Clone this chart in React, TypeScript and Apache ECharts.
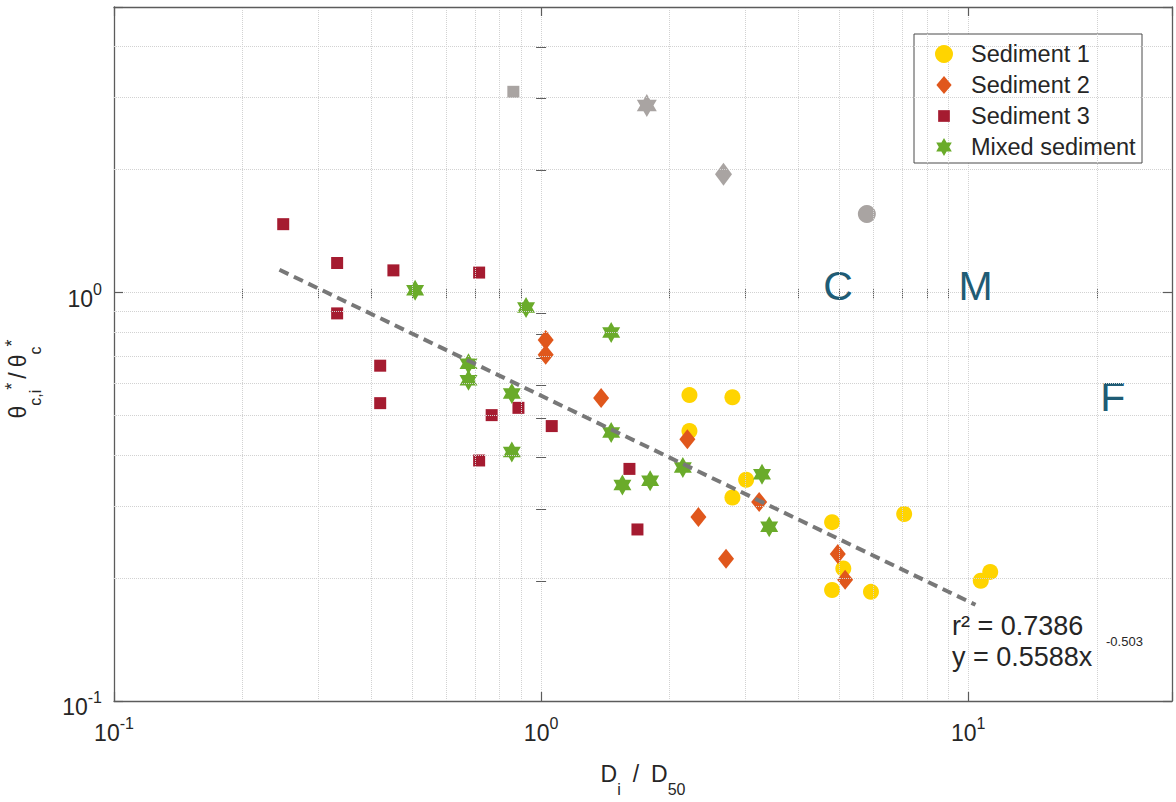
import React, { useEffect, useRef } from "react";
import * as echarts from "echarts";

// ---------- data ----------
const sediment1: number[][] = [
  [2.225, 0.561], [2.805, 0.554], [2.225, 0.458], [3.02, 0.348], [2.805, 0.315],
  [4.8, 0.274], [7.08, 0.287], [5.1, 0.211], [4.8, 0.187], [5.92, 0.185],
  [10.7, 0.197], [11.26, 0.207],
];
const sediment2: number[][] = [
  [1.025, 0.765], [1.025, 0.704], [1.382, 0.552], [2.2, 0.437], [2.335, 0.282],
  [2.71, 0.223], [3.24, 0.307], [4.95, 0.229], [5.15, 0.198],
];
const sediment3: number[][] = [
  [0.249, 1.47], [0.333, 1.181], [0.451, 1.133], [0.716, 1.119], [0.333, 0.889],
  [0.42, 0.662], [0.42, 0.536], [0.766, 0.501], [0.885, 0.522], [1.059, 0.471],
  [0.716, 0.388], [1.61, 0.37], [1.681, 0.263],
];
const mixedSediment: number[][] = [
  [0.507, 1.013], [0.922, 0.919], [1.459, 0.798], [0.676, 0.669], [0.676, 0.61],
  [0.854, 0.566], [1.459, 0.454], [0.854, 0.407], [2.147, 0.373], [1.55, 0.338],
  [1.8, 0.346], [3.29, 0.359], [3.42, 0.267],
];
const excludedSediment1: number[][] = [[5.79, 1.557]];
const excludedSediment2: number[][] = [[2.673, 1.948]];
const excludedSediment3: number[][] = [[0.861, 3.1]];
const excludedMixed: number[][] = [[1.768, 2.87]];
const fitLine: number[][] = [[0.244, 1.137], [10.4, 0.172]];
const fitR2 = "0.7386";
const fitCoef = "0.5588";
const fitExp = "-0.503";

const xRange = [0.1, 30];
const yRange = [0.1, 5];
const xMinorTicks = [0.2, 0.3, 0.4, 0.5, 0.6, 0.7, 0.8, 0.9, 2, 3, 4, 5, 6, 7, 8, 9, 20];
const yMinorTicks = [0.2, 0.3, 0.4, 0.5, 0.6, 0.7, 0.8, 0.9, 2, 3, 4];

const regionLabels = ["C", "M", "F"];
const regionX = [4.96, 10.41, 21.8];
const regionY = [1.04, 1.04, 0.555];

const seriesNames = ["Sediment 1", "Sediment 2", "Sediment 3", "Mixed sediment"];

// ---------- styles ----------
const FONT = '"Liberation Sans", Arial, Helvetica, sans-serif';
const AXIS_COLOR = "#5c5c5c";
const TEXT_COLOR = "#262626";
const GRID_COLOR = "#d2d2d2";
const COLORS = ["#FFD400", "#E0571C", "#A51B30", "#6AAB2A"];
const GRAY = "#A9A4A2";

const starPath =
  "path://M0,-10L2.887,-5L8.66,-5L5.774,0L8.66,5L2.887,5L0,10L-2.887,5L-8.66,5L-5.774,0L-8.66,-5L-2.887,-5Z";
const legendStar =
  "path://M-10,-10M10,10M0,-10L2.887,-5L8.66,-5L5.774,0L8.66,5L2.887,5L0,10L-2.887,5L-8.66,5L-5.774,0L-8.66,-5L-2.887,-5Z";
const legendDiamond = "path://M-9,-10M9,10M0,-10L8.5,0L0,10L-8.5,0Z";
const legendSquare = "path://M-10,-10M10,10M-6.5,-6.5L6.5,-6.5L6.5,6.5L-6.5,6.5Z";

const tickRich = {
  b: { fontSize: 23, lineHeight: 23, padding: [6, 0, 0, 0], verticalAlign: "top", color: TEXT_COLOR, fontFamily: FONT },
  s: { fontSize: 16, lineHeight: 16, verticalAlign: "top", color: TEXT_COLOR, fontFamily: FONT },
};

const decadeLabel = (v: number) => {
  const e = Math.log10(v);
  if (Math.abs(e - Math.round(e)) > 1e-6) return "";
  return `{b|10}{s|${Math.round(e)}}`;
};

const log10 = (v: number) => Math.log10(v);

export default function App() {
  const ref = useRef<HTMLDivElement>(null);

  useEffect(() => {
    document.body.style.margin = "0";
    const chart = echarts.init(ref.current!, undefined, { renderer: "svg" });

    const gridBox = { left: 114, right: 4, top: 7, bottom: 97 };

    const majorLog = (position: string, gridIndex: number, range: number[], labels: boolean, extra: any = {}) => ({
      type: "log",
      logBase: 10,
      gridIndex,
      position,
      min: range[0],
      max: range[1],
      axisLine: { show: true, onZero: false, lineStyle: { color: AXIS_COLOR, width: 1.3 } },
      axisTick: { show: true, inside: true, length: 9, lineStyle: { color: AXIS_COLOR, width: 1.2 } },
      axisLabel: labels
        ? { show: true, formatter: decadeLabel, rich: tickRich, ...extra.axisLabel }
        : { show: false },
      splitLine: labels ? { show: true, lineStyle: { color: GRID_COLOR, type: "dotted", width: 1 } } : { show: false },
      ...(extra.name ? extra.name : {}),
    });

    const minorAxis = (position: string, range: number[], ticks: number[]) => ({
      type: "value",
      gridIndex: 1,
      position,
      min: log10(range[0]),
      max: log10(range[1]),
      axisLine: { show: false },
      axisTick: { show: true, inside: true, length: 5, customValues: ticks.map(log10), lineStyle: { color: AXIS_COLOR, width: 1 } },
      axisLabel: { show: false },
      splitLine: { show: false },
    });

    const option: any = {
      animation: false,
      backgroundColor: "#ffffff",
      textStyle: { fontFamily: FONT },
      grid: [{ ...gridBox }, { ...gridBox }],
      xAxis: [
        majorLog("bottom", 0, xRange, true, {
          axisLabel: { margin: 14 },
          name: {
            name: "{m|D}{s|i}{sl|/}{m|D}{s|50}",
            nameLocation: "middle",
            nameGap: 61,
            nameTextStyle: {
              rich: {
                m: { fontSize: 23, lineHeight: 23, verticalAlign: "top", color: TEXT_COLOR, fontFamily: FONT },
                sl: { fontSize: 23, lineHeight: 23, padding: [0, 12, 0, 12], verticalAlign: "top", color: TEXT_COLOR, fontFamily: FONT },
                s: { fontSize: 16, lineHeight: 16, padding: [19, 0, 0, 0], verticalAlign: "top", color: TEXT_COLOR, fontFamily: FONT },
              },
            },
          },
        }),
        majorLog("top", 0, xRange, false),
        minorAxis("bottom", xRange, xMinorTicks),
        minorAxis("top", xRange, xMinorTicks),
      ],
      yAxis: [
        majorLog("left", 0, yRange, true, { axisLabel: { margin: 12 } }),
        majorLog("right", 0, yRange, false),
        minorAxis("left", yRange, yMinorTicks),
        minorAxis("right", yRange, yMinorTicks),
      ],
      legend: {
        orient: "vertical",
        left: 935,
        top: 42,
        padding: 0,
        itemGap: 7,
        itemWidth: 44,
        itemHeight: 18,
        z: 6,
        textStyle: { fontSize: 23.5, color: TEXT_COLOR, fontFamily: FONT, lineHeight: 22 },
        data: [
          { name: seriesNames[0], icon: "circle" },
          { name: seriesNames[1], icon: legendDiamond },
          { name: seriesNames[2], icon: legendSquare },
          { name: seriesNames[3], icon: legendStar },
        ],
      },
      graphic: [
        {
          type: "rect",
          z: 4,
          shape: { x: 914, y: 34, width: 228, height: 129 },
          style: { fill: "#ffffff", stroke: "#4a4a4a", lineWidth: 1 },
        },
        {
          type: "text",
          z: 6,
          x: 12,
          y: 379,
          rotation: Math.PI / 2,
          style: {
            text: "{m|θ}{s|c,i}{p|*}{sl|/}{m|θ}{s|c}{p|*}",
            align: "center",
            verticalAlign: "middle",
            textAlign: "center",
            textVerticalAlign: "middle",
            rich: {
              m: { fontSize: 23, lineHeight: 23, padding: [6, 0, 0, 0], verticalAlign: "top", fill: TEXT_COLOR, color: TEXT_COLOR, fontFamily: FONT },
              sl: { fontSize: 23, lineHeight: 23, padding: [6, 5, 0, 4], verticalAlign: "top", fill: TEXT_COLOR, color: TEXT_COLOR, fontFamily: FONT },
              s: { fontSize: 16, lineHeight: 16, padding: [27, 0, 0, 0], verticalAlign: "top", fill: TEXT_COLOR, color: TEXT_COLOR, fontFamily: FONT },
              p: { fontSize: 18, lineHeight: 18, padding: [2, 0, 0, 0], verticalAlign: "top", fill: TEXT_COLOR, color: TEXT_COLOR, fontFamily: FONT },
            },
          },
        },
        {
          type: "text",
          z: 6,
          x: 952,
          y: 626,
          style: { text: `r² = ${fitR2}`, fontSize: 27, fontFamily: FONT, fill: TEXT_COLOR, verticalAlign: "middle", textVerticalAlign: "middle" },
        },
        {
          type: "text",
          z: 6,
          x: 952,
          y: 657,
          style: { text: `y = ${fitCoef}x`, fontSize: 27, fontFamily: FONT, fill: TEXT_COLOR, verticalAlign: "middle", textVerticalAlign: "middle" },
        },
        {
          type: "text",
          z: 6,
          x: 1106,
          y: 641,
          style: { text: fitExp, fontSize: 13, fontFamily: FONT, fill: TEXT_COLOR, verticalAlign: "middle", textVerticalAlign: "middle" },
        },
      ],
      series: [
        {
          name: "minor-grid",
          type: "line",
          data: fitLine,
          symbol: "none",
          silent: true,
          z: 1,
          lineStyle: { opacity: 0 },
          markLine: {
            silent: true,
            symbol: ["none", "none"],
            label: { show: false },
            lineStyle: { color: GRID_COLOR, type: "dotted", width: 1 },
            data: [
              ...xMinorTicks.map((v) => ({ xAxis: v })),
              ...yMinorTicks.map((v) => ({ yAxis: v })),
            ],
          },
        },
        {
          name: "minor-ticks",
          type: "scatter",
          xAxisIndex: 2,
          yAxisIndex: 2,
          data: [],
          silent: true,
        },
        { name: "ex1", type: "scatter", data: excludedSediment1, symbol: "circle", symbolSize: 18, itemStyle: { color: GRAY, opacity: 1 }, z: 3 },
        { name: "ex2", type: "scatter", data: excludedSediment2, symbol: "diamond", symbolSize: [17, 23], itemStyle: { color: GRAY, opacity: 1 }, z: 3 },
        { name: "ex3", type: "scatter", data: excludedSediment3, symbol: "rect", symbolSize: 12, itemStyle: { color: GRAY, opacity: 1 }, z: 3 },
        { name: "ex4", type: "scatter", data: excludedMixed, symbol: starPath, symbolSize: [20, 23], itemStyle: { color: GRAY, opacity: 1 }, z: 3 },
        { name: seriesNames[0], type: "scatter", data: sediment1, symbol: "circle", symbolSize: 16, itemStyle: { color: COLORS[0], opacity: 1 }, z: 3 },
        { name: seriesNames[1], type: "scatter", data: sediment2, symbol: "diamond", symbolSize: [16, 20], itemStyle: { color: COLORS[1], opacity: 1 }, z: 3 },
        { name: seriesNames[2], type: "scatter", data: sediment3, symbol: "rect", symbolSize: 12, itemStyle: { color: COLORS[2], opacity: 1 }, z: 3 },
        { name: seriesNames[3], type: "scatter", data: mixedSediment, symbol: starPath, symbolSize: [18, 21], itemStyle: { color: COLORS[3], opacity: 1 }, z: 3 },
        {
          name: "fit",
          type: "line",
          data: fitLine,
          symbol: "none",
          z: 5,
          lineStyle: { color: "#787878", width: 4, type: [10, 6] },
        },
        {
          name: "regions",
          type: "scatter",
          data: regionLabels.map((n, i) => ({ name: n, value: [regionX[i], regionY[i]] })),
          symbolSize: 1,
          itemStyle: { color: "rgba(255,255,255,0)", opacity: 1 },
          z: 4,
          label: {
            show: true,
            position: "inside",
            formatter: "{b}",
            fontSize: 41,
            fontFamily: FONT,
            color: "#1F5C75",
          },
        },
      ],
    };

    chart.setOption(option);
    return () => chart.dispose();
  }, []);

  return (
    <div
      ref={ref}
      style={{ position: "fixed", left: 0, top: 0, width: 1176, height: 802, background: "#fff" }}
    />
  );
}
